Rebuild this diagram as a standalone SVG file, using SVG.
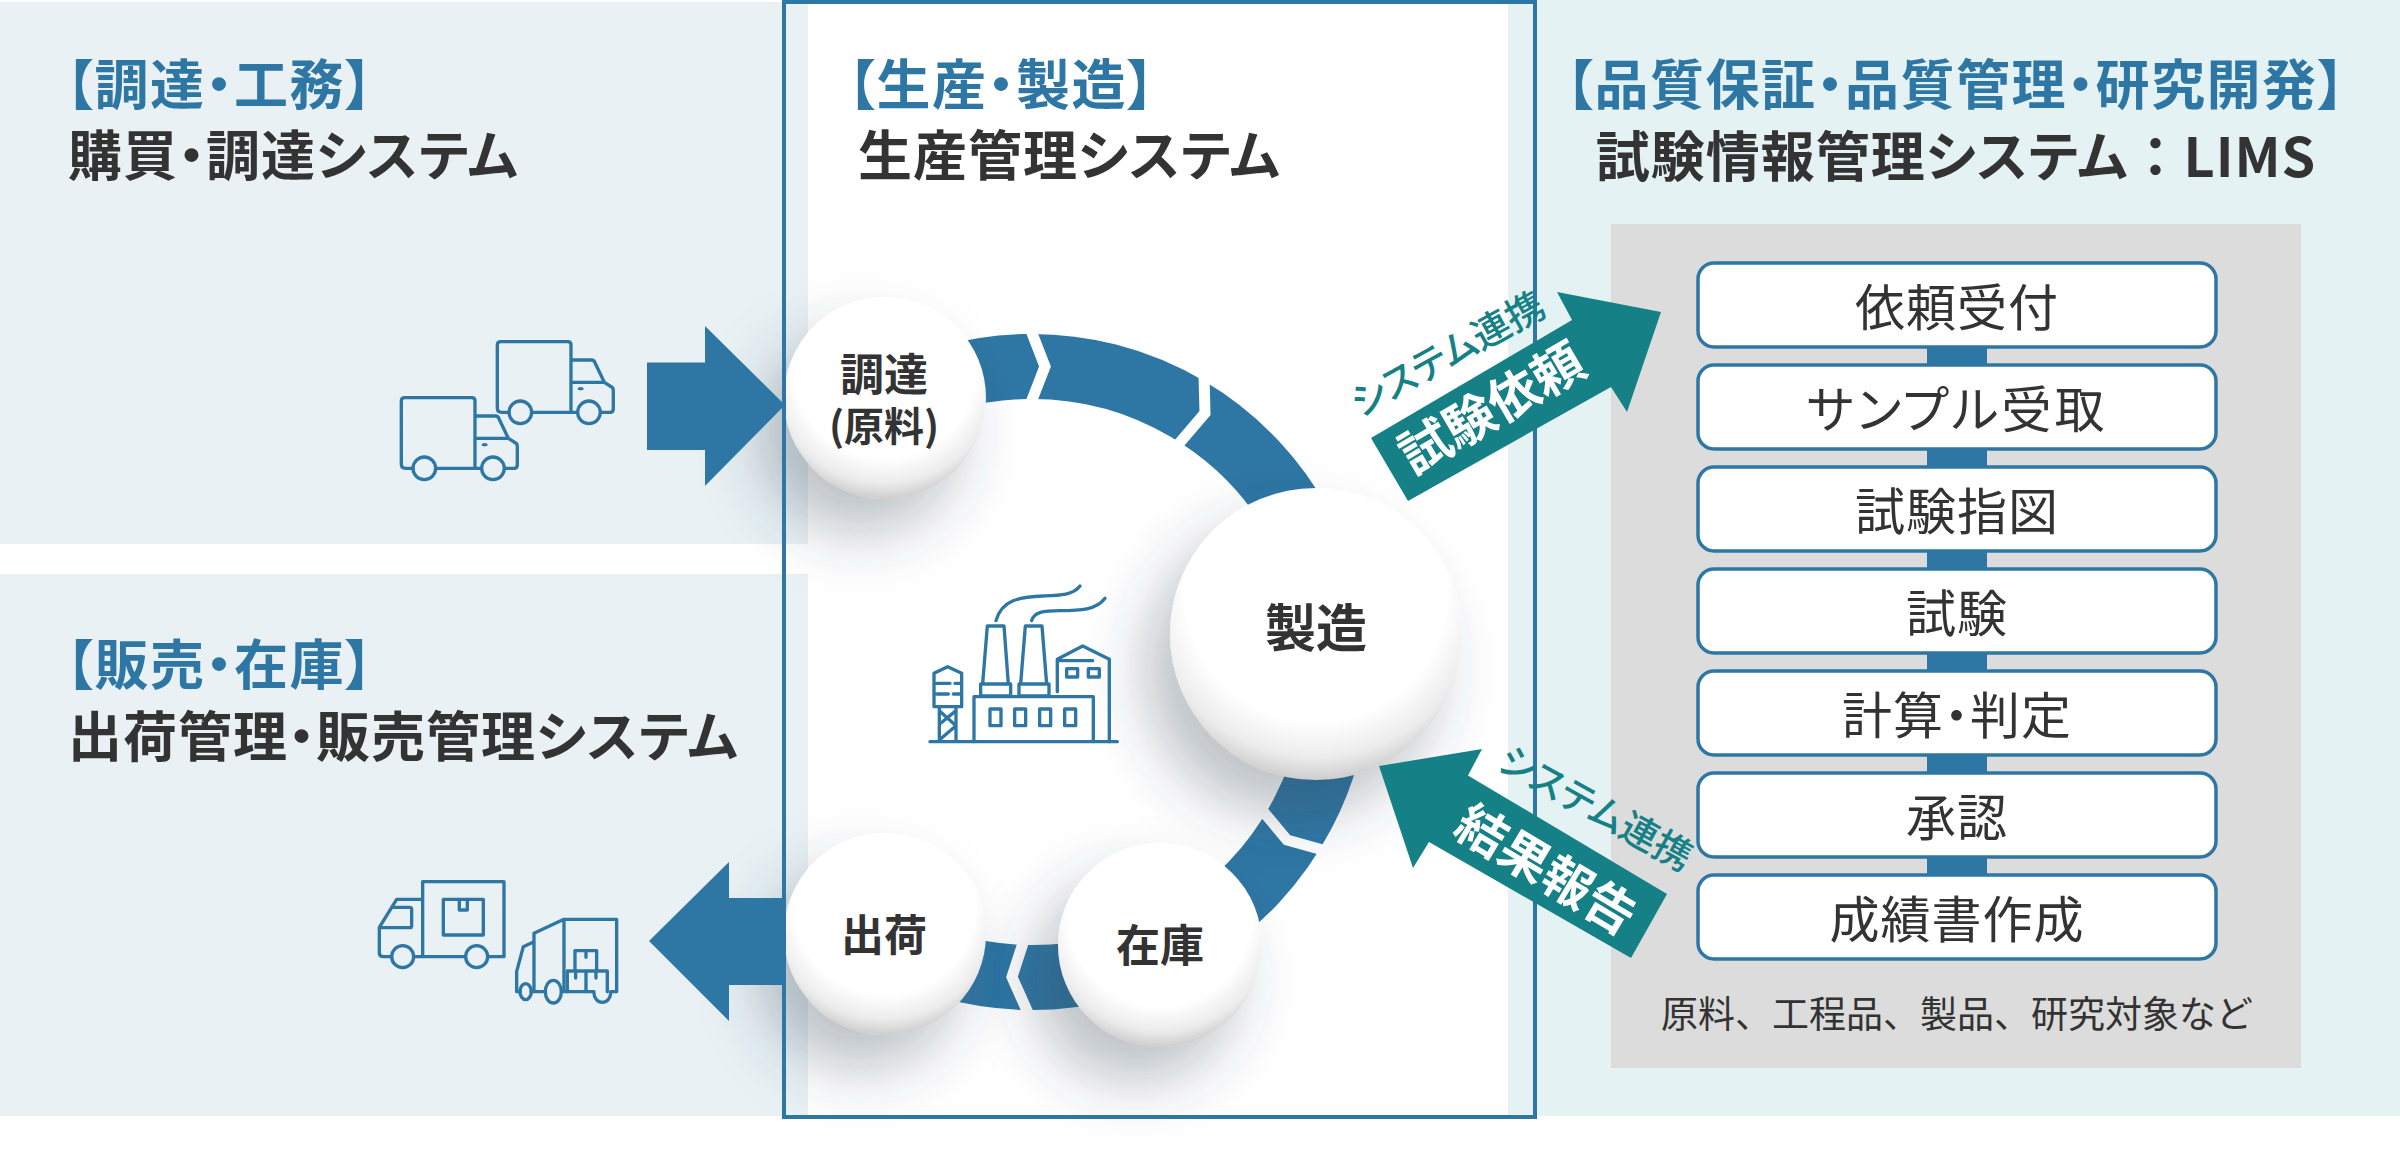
<svg xmlns="http://www.w3.org/2000/svg" width="2400" height="1158" viewBox="0 0 2400 1158">
<defs>
<style>
text{font-family:"Noto Sans CJK JP","Noto Sans",sans-serif;font-feature-settings:"palt";}
.h{font-size:54px;font-weight:700;fill:#2e77a4;letter-spacing:1.5px}
.s{font-size:54px;font-weight:700;fill:#333;letter-spacing:1px}
.c{font-weight:700;fill:#333;text-anchor:middle}
.b{font-size:50px;fill:#333;text-anchor:middle;font-weight:400;letter-spacing:1px}
.box{fill:#fff;stroke:#2e77a4;stroke-width:3.500}
.ic{fill:none;stroke:#2e77a4;stroke-width:10;stroke-linejoin:round;stroke-linecap:round}
.w{fill:#fff;font-weight:700;text-anchor:middle}
.t{fill:#158186;font-weight:500;text-anchor:middle}
.gap{fill:none;stroke:#fff;stroke-width:11;stroke-linejoin:miter}
</style>
<radialGradient id="ball" cx="50%" cy="35%" r="68%">
<stop offset="0" stop-color="#fff"/><stop offset=".66" stop-color="#fff"/><stop offset=".84" stop-color="#ececec"/><stop offset="1" stop-color="#c2c2c2"/>
</radialGradient>
<filter id="sh" x="-70%" y="-70%" width="240%" height="240%"><feDropShadow dx="-25" dy="35" stdDeviation="30" flood-color="#34424f" flood-opacity=".33"/></filter>
<g id="truck1" class="ic">
<path d="M447 307H425Q412 307 412 295V105Q412 95 422 95H623Q633 95 633 105V307M518 307H650M724 307H750Q760 307 760 297V240Q760 234 755 231L733 217L705 158Q702 150 695 150H633M633 217H733"/>
<circle cx="481" cy="307" r="34"/><circle cx="687" cy="307" r="34"/>
<ellipse cx="662" cy="236" rx="6" ry="2" stroke-width="6"/>
</g>
</defs>
<rect id="bg" width="2400" height="1158" fill="#fff"/>
<rect x="0" y="2" width="808" height="542" fill="#e9f1f5"/>
<rect x="0" y="574" width="808" height="542" fill="#e9f1f5"/>
<rect x="1508" y="0" width="892" height="1116" fill="#e5f2f3"/>
<rect x="1611" y="224" width="690" height="844" fill="#dcdcdc"/>

<g id="ring">
<path d="M885 404.200A305.500 305.500 0 1 1 885 939.800" fill="none" stroke="#2e76a4" stroke-width="65"/>
<path class="gap" d="M1030 328L1045 366.500L1030 405"/>
<path class="gap" d="M1204 375L1205 413L1176 447"/>
<path class="gap" d="M1262 810L1287 840L1330 852"/>
<path class="gap" d="M1024 940L1012 977L1029 1015"/>
</g>

<g id="pipeline">
<g fill="#2e77a4"><rect x="1927" y="340" width="60" height="540"/></g>
<g id="n1"><rect class="box" x="1698" y="263" width="518" height="84" rx="16"/><text class="b" x="1957" y="326">依頼受付</text></g>
<g id="n2"><rect class="box" x="1698" y="365" width="518" height="84" rx="16"/><text class="b" x="1957" y="428" style="letter-spacing:3px">サンプル受取</text></g>
<g id="n3"><rect class="box" x="1698" y="467" width="518" height="84" rx="16"/><text class="b" x="1957" y="530">試験指図</text></g>
<g id="n4"><rect class="box" x="1698" y="569" width="518" height="84" rx="16"/><text class="b" x="1957" y="632">試験</text></g>
<g id="n5"><rect class="box" x="1698" y="671" width="518" height="84" rx="16"/><text class="b" x="1957" y="734">計算・判定</text></g>
<g id="n6"><rect class="box" x="1698" y="773" width="518" height="84" rx="16"/><text class="b" x="1957" y="836">承認</text></g>
<g id="n7"><rect class="box" x="1698" y="875" width="518" height="84" rx="16"/><text class="b" x="1957" y="938">成績書作成</text></g>
</g>
<text x="1957" y="1028" font-size="37" fill="#333" text-anchor="middle" style="font-feature-settings:normal">原料、工程品、製品、研究対象など</text>

<g id="balls">
<g id="b-chotatsu"><circle cx="885" cy="398" r="101" fill="url(#ball)" filter="url(#sh)"/><text class="c" font-size="44" x="884" y="391">調達</text><text class="c" font-size="40" x="884" y="441">(原料)</text></g>
<g id="b-seizo"><circle cx="1316" cy="634" r="146" fill="url(#ball)" filter="url(#sh)"/><text class="c" font-size="51" x="1316" y="647">製造</text></g>
<g id="b-shukka"><circle cx="885" cy="934" r="101" fill="url(#ball)" filter="url(#sh)"/><text class="c" font-size="43" x="884" y="951">出荷</text></g>
<g id="b-zaiko"><circle cx="1160" cy="945" r="102" fill="url(#ball)" filter="url(#sh)"/><text class="c" font-size="44" x="1160" y="962">在庫</text></g>
</g>

<rect id="frame" x="784" y="2" width="751" height="1115" fill="none" stroke="#2e77a4" stroke-width="4"/>

<g id="arrows-left">
<path d="M647 362.500H705V326L785 405L705 486V450H647Z" fill="#2e77a4"/>
<path d="M786 898H729V862L649 941L729 1021V985H786Z" fill="#2e77a4"/>
</g>

<g id="link-up">
<path d="M1371 438L1572 320L1557 292L1661 312L1627 412L1611 387L1408 501Z" fill="#158186"/>
<text class="w" font-size="51" transform="translate(1501 424) rotate(-30.400)">試験依頼</text>
<text class="t" font-size="38" transform="translate(1454 366) rotate(-29)">システム連携</text>
</g>
<g id="link-down">
<path d="M1379 766L1482 749L1468 775.500L1667 894L1631 958L1429 842L1413 868Z" fill="#158186"/>
<text class="w" font-size="50" transform="translate(1537 885) rotate(31)">結果報告</text>
<text class="t" font-size="38" transform="translate(1589 820) rotate(29)">システム連携</text>
</g>

<g id="headings">
<text class="h" x="66" y="105">【調達・工務】</text>
<text class="s" x="68" y="176">購買・調達システム</text>
<text class="h" x="66" y="685">【販売・在庫】</text>
<text class="s" x="68" y="757">出荷管理・販売管理システム</text>
<text class="h" x="848" y="105">【生産・製造】</text>
<text class="s" x="858" y="176">生産管理システム</text>
<text class="h" x="1956" y="105" text-anchor="middle">【品質保証・品質管理・研究開発】</text>
<text class="s" x="1956" y="177" text-anchor="middle">試験情報管理システム<tspan style="font-feature-settings:normal">：</tspan>LIMS</text>
</g>

<g id="truck-a">
<use href="#truck1" transform="translate(360 310) scale(.3333)"/>
<use href="#truck1" transform="translate(264 366) scale(.3333)"/>
</g>
<g id="truck-b" transform="translate(360 860) scale(.3333)" class="ic">
<path d="M95 290H70Q58 290 58 278V202L110 118H188M188 290V65H432V290H385M162 290H316M60 203H150Q155 203 155 197V148Q155 142 150 142H100"/>
<circle cx="128" cy="290" r="33"/><circle cx="350" cy="290" r="33"/>
<rect x="250" y="118" width="120" height="107"/><path d="M298 118V150H322V118"/>
<path d="M470 395V335L490 260L522 245M522 395V220L612 178H770V395H752M612 178V395M470 395H481M513 395H555M605 395H702"/>
<ellipse cx="497" cy="395" rx="17" ry="24"/><ellipse cx="580" cy="395" rx="24" ry="34"/>
<path d="M702 400A25 27 0 0 0 752 400"/>
<path d="M645 332V272H710V332M622 333H742V395M622 333V395M678 333V395M647 333V354M708 333V354M678 272V292"/>
</g>
<g id="factory" transform="translate(910 560) scale(.3333)" class="ic">
<path d="M60 545H622M72 340L113 320L155 340V440H72ZM80 370H120M135 370H155M80 402H115M130 402H155M88 445V545M138 445V545M88 452L138 497L88 540M138 452L92 490"/>
<path d="M232 198H282L295 372H218ZM212 372H302V408H212ZM346 198H396L410 372H332ZM327 372H417V408H327Z"/>
<path d="M192 545V410H550V545M442 395V298L518 258L598 298V545M442 302H548"/>
<rect x="240" y="447" width="33" height="50"/><rect x="314" y="447" width="33" height="50"/><rect x="389" y="447" width="33" height="50"/><rect x="464" y="447" width="33" height="50"/>
<rect x="470" y="326" width="33" height="25"/><rect x="535" y="326" width="33" height="25"/>
<path d="M258 182C275 120 330 110 400 108C450 106 490 105 510 78M365 182C372 155 400 152 450 152C510 152 560 150 585 115"/>
</g>
</svg>
